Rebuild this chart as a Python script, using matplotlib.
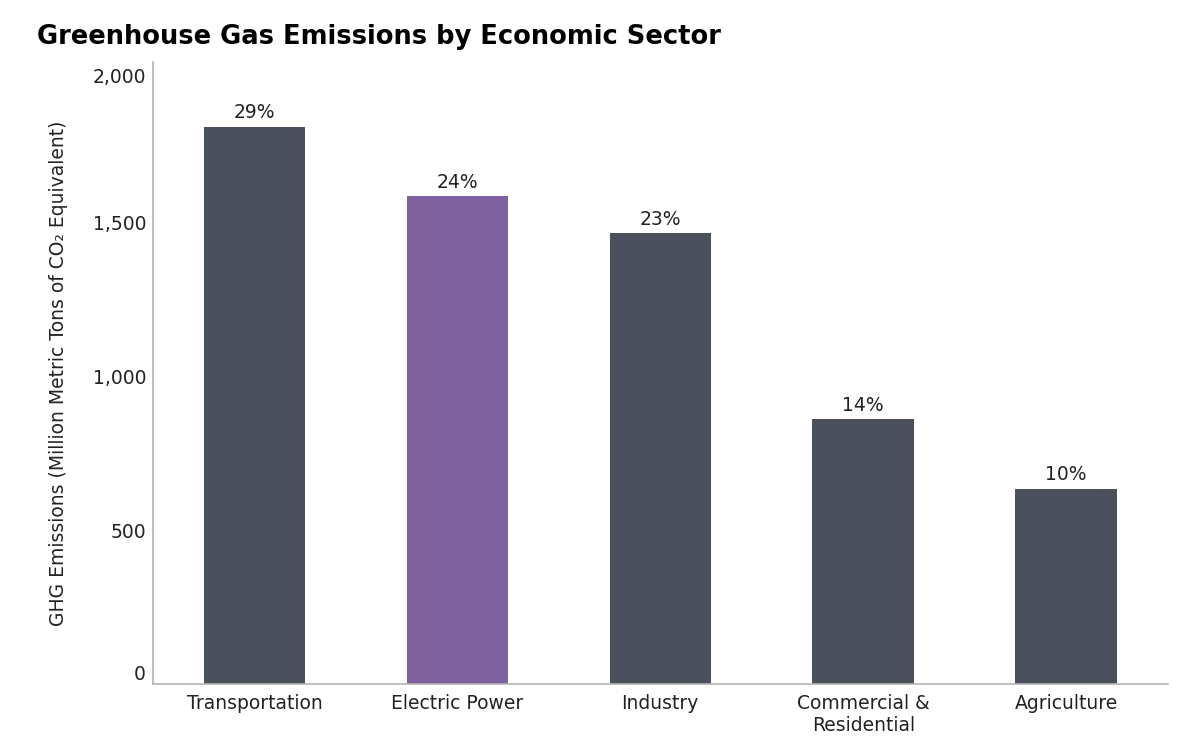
import matplotlib.pyplot as plt
from matplotlib.ticker import FuncFormatter

# ── Data ──────────────────────────────────────────────────────────────────────
sectors   = ["Transportation", "Electric Power", "Industry",
             "Commercial &\nResidential", "Agriculture"]
emissions = [1810, 1585, 1465, 860, 635]
shares    = ["29%", "24%", "23%", "14%", "10%"]
y_ticks   = [0, 500, 1000, 1500, 2000]

BAR_GRAY   = "#4b515c"
BAR_PURPLE = "#7e62a0"
TEXT       = "#222222"
SPINE      = "#b4b4b4"

plt.rcParams["font.family"] = ["DejaVu Sans"]

fig = plt.figure(figsize=(12, 7.42), dpi=100)
ax = fig.add_axes([0.1275, 0.078, 0.8455, 0.8385])

colors = [BAR_PURPLE if s == "Electric Power" else BAR_GRAY for s in sectors]
x = range(len(sectors))
bars = ax.bar(x, emissions, width=0.5, color=colors, zorder=2)

# percentage labels above bars
for b, lab in zip(bars, shares):
    ax.annotate(lab, (b.get_x() + b.get_width() / 2, b.get_height()),
                xytext=(0, 3), textcoords="offset points",
                ha="center", va="bottom", fontsize=13.5, color=TEXT)

ax.set_xlim(-0.5, len(sectors) - 0.5)
ax.set_ylim(0, 2020)
ax.set_xticks(list(x))
ax.set_xticklabels(sectors, fontsize=13.5, color=TEXT, linespacing=1.2)
ax.set_yticks(y_ticks)
ax.yaxis.set_major_formatter(FuncFormatter(lambda v, _: f"{int(v):,}"))
ax.tick_params(axis="both", length=0, labelsize=13.5, labelcolor=TEXT)
ax.tick_params(axis="x", pad=7)
ax.tick_params(axis="y", pad=5)

# end labels sit inside the axis range, as in the reference
ylabels = ax.get_yticklabels()
ylabels[0].set_va("bottom")
ylabels[-1].set_va("top")

ax.set_ylabel("GHG Emissions (Million Metric Tons of CO₂ Equivalent)",
              fontsize=13.5, color=TEXT, labelpad=18)

for side in ("top", "right"):
    ax.spines[side].set_visible(False)
for side in ("left", "bottom"):
    ax.spines[side].set_color(SPINE)
    ax.spines[side].set_linewidth(1.2)

fig.text(0.031, 0.95, "Greenhouse Gas Emissions by Economic Sector",
         fontsize=18.5, fontweight="bold", color="black", ha="left", va="center")

fig.savefig("out.png", dpi=100, facecolor="white")
